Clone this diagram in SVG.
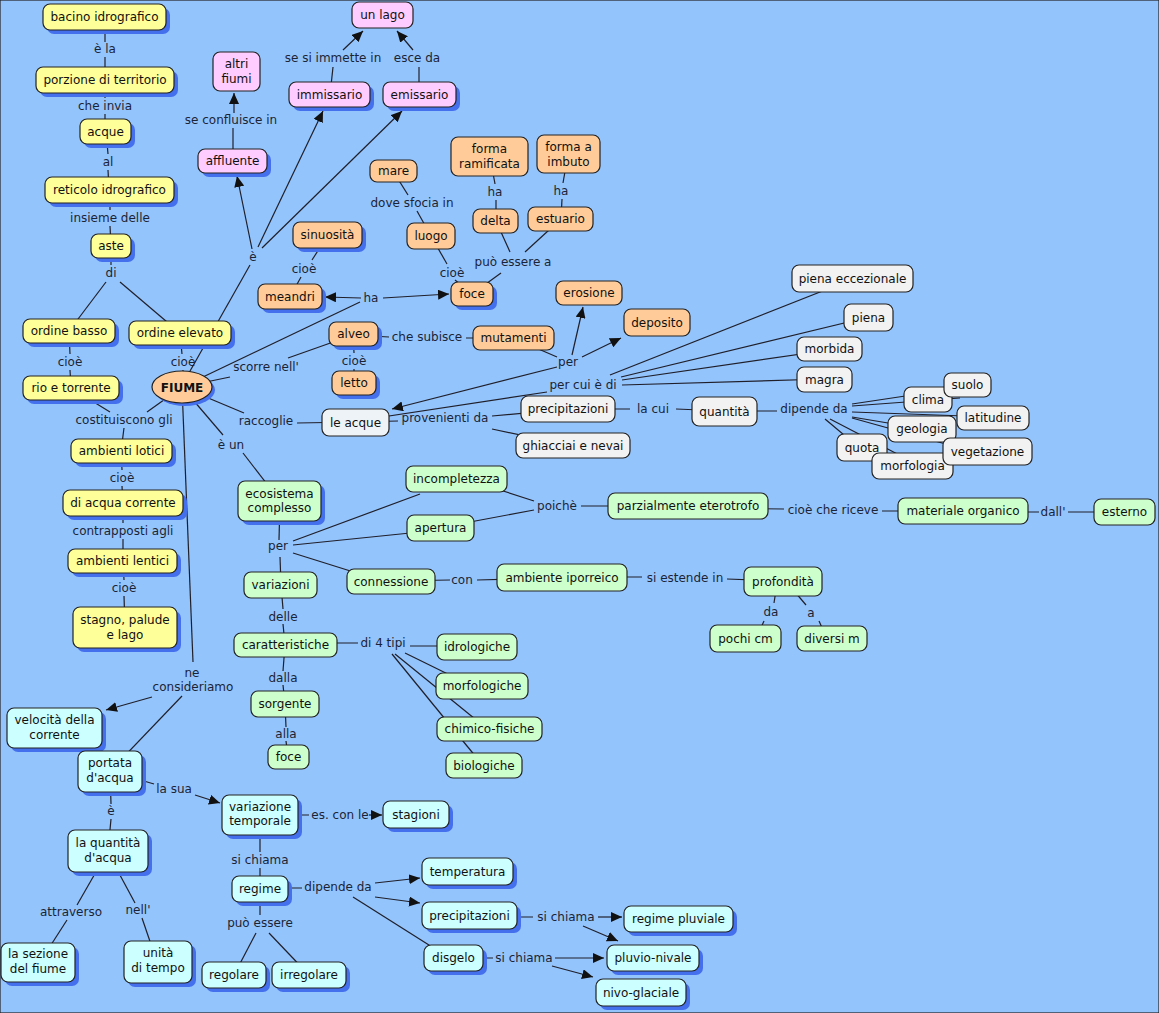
<svg xmlns="http://www.w3.org/2000/svg" width="1159" height="1013" viewBox="0 0 1159 1013">
<defs>
<style>
text{font-family:"DejaVu Sans",Verdana,"Liberation Sans",sans-serif;font-size:12px;text-anchor:middle;fill:#111}
.lbl text{fill:#1b2436}
rect,ellipse{stroke:#222;stroke-width:1.2}
.sh{fill:#4470EE;stroke:none}
.y{fill:#FFFF99}.p{fill:#FFCCFF}.o{fill:#FFCC99}.g{fill:#F2F2F2}.la{fill:#EEF3F7}.gr{fill:#CCFFCC}.c{fill:#CCFFFF}
#connectors line{stroke:#1f1f2a;stroke-width:1.2;fill:none}
#connectors line.a{marker-end:url(#arr)}
</style>
<marker id="arr" markerWidth="12" markerHeight="10" refX="11" refY="5" orient="auto" markerUnits="userSpaceOnUse"><path d="M0,0 L11,5 L0,10 z" fill="#111"/></marker>
</defs>
<rect x="0" y="0" width="1159" height="1013" fill="#94C4FC" stroke="none"/>
<g id="connectors">
<line x1="105" y1="17" x2="105" y2="42"/><line x1="105" y1="57" x2="105" y2="80"/>
<line x1="105" y1="80" x2="105" y2="98"/><line x1="105" y1="114" x2="105" y2="131"/>
<line x1="106" y1="131" x2="108" y2="154"/><line x1="108" y1="170" x2="109" y2="190"/>
<line x1="110" y1="190" x2="110" y2="210"/><line x1="110" y1="226" x2="111" y2="246"/>
<line x1="111" y1="246" x2="111" y2="265"/>
<line x1="106" y1="282" x2="69" y2="331"/><line x1="120" y1="282" x2="180" y2="333"/>
<line x1="69" y1="331" x2="70" y2="354"/><line x1="70" y1="370" x2="71" y2="388"/>
<line x1="180" y1="333" x2="182" y2="354"/><line x1="183" y1="370" x2="182" y2="387"/>
<line x1="71" y1="388" x2="110" y2="412"/><line x1="182" y1="387" x2="147" y2="412"/><line x1="124" y1="428" x2="121" y2="451"/>
<line x1="121" y1="451" x2="122" y2="470"/><line x1="122" y1="486" x2="123" y2="503"/>
<line x1="123" y1="503" x2="123" y2="523"/><line x1="123" y1="539" x2="123" y2="561"/>
<line x1="123" y1="561" x2="124" y2="580"/><line x1="124" y1="596" x2="125" y2="628"/>
<line x1="181" y1="387" x2="250" y2="265"/>
<line class="a" x1="252" y1="249" x2="237" y2="176"/>
<line class="a" x1="258" y1="247" x2="323" y2="111"/>
<line class="a" x1="262" y1="248" x2="402" y2="111"/>
<line x1="233" y1="161" x2="233" y2="128"/><line class="a" x1="234" y1="113" x2="234" y2="93"/>
<line x1="330" y1="95" x2="333" y2="67"/><line class="a" x1="343" y1="50" x2="363" y2="31"/>
<line x1="419" y1="95" x2="419" y2="67"/><line class="a" x1="413" y1="50" x2="397" y2="31"/>
<line x1="182" y1="387" x2="360" y2="302"/>
<line class="a" x1="361" y1="298" x2="325" y2="297"/>
<line class="a" x1="383" y1="298" x2="449" y2="294"/>
<line x1="328" y1="235" x2="312" y2="260"/><line x1="301" y1="277" x2="290" y2="297"/>
<line x1="393" y1="171" x2="408" y2="195"/><line x1="417" y1="211" x2="431" y2="236"/>
<line x1="431" y1="236" x2="447" y2="264"/><line x1="455" y1="280" x2="472" y2="294"/>
<line x1="490" y1="156" x2="495" y2="184"/><line x1="496" y1="200" x2="496" y2="221"/>
<line x1="568" y1="154" x2="563" y2="183"/><line x1="562" y1="199" x2="561" y2="219"/>
<line x1="496" y1="221" x2="510" y2="252"/><line x1="561" y1="219" x2="525" y2="252"/><line x1="501" y1="273" x2="472" y2="294"/>
<line x1="353" y1="335" x2="389" y2="337"/><line x1="466" y1="338" x2="513" y2="338"/>
<line x1="353" y1="334" x2="354" y2="353"/><line x1="354" y1="369" x2="354" y2="383"/>
<line x1="513" y1="338" x2="557" y2="357"/>
<line class="a" x1="572" y1="355" x2="583" y2="307"/>
<line class="a" x1="582" y1="357" x2="621" y2="338"/>
<line class="a" x1="557" y1="367" x2="392" y2="409"/>
<line x1="182" y1="387" x2="230" y2="377"/><line x1="288" y1="358" x2="353" y2="335"/>
<line x1="182" y1="387" x2="244" y2="413"/><line x1="297" y1="423" x2="356" y2="422"/>
<line x1="356" y1="422" x2="398" y2="421"/><line x1="492" y1="416" x2="568" y2="409"/><line x1="492" y1="429" x2="573" y2="446"/>
<line x1="356" y1="421" x2="547" y2="392"/>
<line x1="610" y1="375" x2="853" y2="279"/><line x1="621" y1="377" x2="869" y2="317"/><line x1="622" y1="380" x2="829" y2="350"/><line x1="622" y1="385" x2="825" y2="379"/>
<line x1="568" y1="409" x2="630" y2="409"/><line x1="676" y1="409" x2="725" y2="411"/>
<line x1="725" y1="411" x2="777" y2="411"/>
<line x1="852" y1="404" x2="912" y2="395"/><line x1="852" y1="406" x2="960" y2="398"/><line x1="852" y1="412" x2="965" y2="416"/><line x1="852" y1="417" x2="900" y2="425"/><line x1="852" y1="418" x2="960" y2="448"/><line x1="825" y1="419" x2="850" y2="440"/><line x1="830" y1="419" x2="905" y2="458"/>
<line x1="182" y1="387" x2="223" y2="435"/><line x1="243" y1="453" x2="280" y2="501"/>
<line x1="280" y1="501" x2="279" y2="540"/><line x1="280" y1="557" x2="281" y2="585"/>
<line x1="293" y1="541" x2="420" y2="494"/><line x1="293" y1="545" x2="420" y2="532"/><line x1="293" y1="553" x2="360" y2="574"/>
<line x1="500" y1="490" x2="534" y2="501"/><line x1="470" y1="522" x2="534" y2="510"/>
<line x1="581" y1="506" x2="688" y2="506"/>
<line x1="688" y1="508" x2="784" y2="509"/><line x1="882" y1="511" x2="963" y2="511"/>
<line x1="963" y1="512" x2="1039" y2="512"/><line x1="1068" y1="512" x2="1125" y2="512"/>
<line x1="391" y1="581" x2="450" y2="580"/><line x1="477" y1="580" x2="562" y2="578"/>
<line x1="562" y1="577" x2="642" y2="577"/><line x1="727" y1="579" x2="783" y2="581"/>
<line x1="776" y1="590" x2="774" y2="603"/><line x1="764" y1="621" x2="760" y2="630"/>
<line x1="795" y1="592" x2="806" y2="605"/><line x1="819" y1="621" x2="823" y2="630"/>
<line x1="281" y1="585" x2="283" y2="609"/><line x1="283" y1="624" x2="285" y2="645"/>
<line x1="286" y1="643" x2="358" y2="643"/>
<line x1="410" y1="646" x2="477" y2="646"/><line x1="405" y1="653" x2="460" y2="680"/><line x1="395" y1="654" x2="480" y2="723"/><line x1="392" y1="654" x2="476" y2="757"/>
<line x1="285" y1="645" x2="283" y2="671"/><line x1="283" y1="685" x2="285" y2="704"/>
<line x1="285" y1="704" x2="286" y2="727"/><line x1="286" y1="741" x2="288" y2="757"/>
<line x1="182" y1="387" x2="193" y2="662"/>
<line class="a" x1="152" y1="697" x2="106" y2="710"/>
<line x1="182" y1="696" x2="115" y2="766"/>
<line x1="110" y1="771" x2="154" y2="784"/><line class="a" x1="195" y1="795" x2="220" y2="803"/>
<line x1="110" y1="771" x2="111" y2="804"/><line x1="111" y1="819" x2="108" y2="851"/>
<line x1="108" y1="851" x2="77" y2="905"/><line x1="67" y1="920" x2="40" y2="962"/>
<line x1="107" y1="851" x2="135" y2="903"/><line x1="142" y1="918" x2="157" y2="962"/>
<line x1="260" y1="815" x2="260" y2="852"/><line x1="260" y1="868" x2="260" y2="888"/>
<line x1="260" y1="815" x2="309" y2="815"/><line class="a" x1="369" y1="815" x2="382" y2="815"/>
<line x1="260" y1="888" x2="302" y2="888"/>
<line class="a" x1="375" y1="883" x2="420" y2="878"/>
<line class="a" x1="375" y1="897" x2="420" y2="903"/>
<line x1="353" y1="897" x2="440" y2="952"/>
<line x1="260" y1="888" x2="260" y2="915"/><line x1="256" y1="933" x2="234" y2="975"/><line x1="269" y1="933" x2="309" y2="975"/>
<line x1="469" y1="917" x2="533" y2="917"/><line class="a" x1="598" y1="917" x2="622" y2="917"/><line class="a" x1="583" y1="926" x2="618" y2="941"/>
<line x1="453" y1="958" x2="493" y2="958"/><line class="a" x1="555" y1="958" x2="604" y2="958"/><line class="a" x1="552" y1="966" x2="593" y2="977"/>
</g>
<g class="lbl" id="link-labels">
<text x="105" y="53">è la</text>
<text x="105" y="110">che invia</text>
<text x="108" y="166">al</text>
<text x="110" y="222">insieme delle</text>
<text x="111" y="277">di</text>
<text x="70" y="366">cioè</text>
<text x="183" y="366">cioè</text>
<text x="231" y="124">se confluisce in</text>
<text x="253" y="261">è</text>
<text x="333" y="62">se si immette in</text>
<text x="417" y="62">esce da</text>
<text x="304" y="273">cioè</text>
<text x="371" y="302">ha</text>
<text x="412" y="207">dove sfocia in</text>
<text x="452" y="277">cioè</text>
<text x="495" y="196">ha</text>
<text x="561" y="195">ha</text>
<text x="513" y="266">può essere a</text>
<text x="427" y="341">che subisce</text>
<text x="354" y="365">cioè</text>
<text x="568" y="366">per</text>
<text x="266" y="371">scorre nell'</text>
<text x="266" y="425">raccoglie</text>
<text x="445" y="422">provenienti da</text>
<text x="583" y="389">per cui è di</text>
<text x="653" y="413">la cui</text>
<text x="814" y="413">dipende da</text>
<text x="124" y="424">costituiscono gli</text>
<text x="122" y="482">cioè</text>
<text x="123" y="535">contrapposti agli</text>
<text x="124" y="592">cioè</text>
<text x="231" y="449">è un</text>
<text x="278" y="550">per</text>
<text x="557" y="510">poichè</text>
<text x="833" y="514">cioè che riceve</text>
<text x="1053" y="516">dall'</text>
<text x="462" y="584">con</text>
<text x="685" y="582">si estende in</text>
<text x="771" y="616">da</text>
<text x="811" y="617">a</text>
<text x="283" y="621">delle</text>
<text x="383" y="647">di 4 tipi</text>
<text x="283" y="682">dalla</text>
<text x="286" y="738">alla</text>
<text x="192" y="677">ne</text>
<text x="193" y="691">consideriamo</text>
<text x="174" y="793">la sua</text>
<text x="111" y="815">è</text>
<text x="71" y="916">attraverso</text>
<text x="138" y="914">nell'</text>
<text x="260" y="864">si chiama</text>
<text x="338" y="891">dipende da</text>
<text x="260" y="927">può essere</text>
<text x="340" y="819">es. con le</text>
<text x="566" y="921">si chiama</text>
<text x="524" y="962">si chiama</text>
</g>
<g id="n-bacino"><rect class="sh" x="47" y="8" width="123" height="26" rx="7"/><rect class="y" x="43" y="4" width="123" height="26" rx="7"/><text x="104.5" y="21">bacino idrografico</text></g>
<g id="n-porzione"><rect class="sh" x="40" y="71" width="138" height="26" rx="7"/><rect class="y" x="36" y="67" width="138" height="26" rx="7"/><text x="105" y="84">porzione di territorio</text></g>
<g id="n-acque"><rect class="sh" x="84" y="123" width="51" height="25" rx="7"/><rect class="y" x="80" y="119" width="51" height="25" rx="7"/><text x="105.5" y="135.5">acque</text></g>
<g id="n-reticolo"><rect class="sh" x="49" y="181" width="129" height="26" rx="7"/><rect class="y" x="45" y="177" width="129" height="26" rx="7"/><text x="109.5" y="194">reticolo idrografico</text></g>
<g id="n-aste"><rect class="sh" x="95" y="238" width="40" height="24" rx="7"/><rect class="y" x="91" y="234" width="40" height="24" rx="7"/><text x="111" y="250">aste</text></g>
<g id="n-ordine-basso"><rect class="sh" x="27" y="323" width="92" height="24" rx="7"/><rect class="y" x="23" y="319" width="92" height="24" rx="7"/><text x="69" y="335">ordine basso</text></g>
<g id="n-ordine-elevato"><rect class="sh" x="133" y="325" width="102" height="24" rx="7"/><rect class="y" x="129" y="321" width="102" height="24" rx="7"/><text x="180" y="337">ordine elevato</text></g>
<g id="n-rio"><rect class="sh" x="27" y="380" width="96" height="24" rx="7"/><rect class="y" x="23" y="376" width="96" height="24" rx="7"/><text x="71" y="392">rio e torrente</text></g>
<g id="n-lotici"><rect class="sh" x="75" y="443" width="101" height="24" rx="7"/><rect class="y" x="71" y="439" width="101" height="24" rx="7"/><text x="121.5" y="455">ambienti lotici</text></g>
<g id="n-corrente"><rect class="sh" x="67" y="494" width="120" height="26" rx="7"/><rect class="y" x="63" y="490" width="120" height="26" rx="7"/><text x="123" y="507">di acqua corrente</text></g>
<g id="n-lentici"><rect class="sh" x="72" y="553" width="109" height="24" rx="7"/><rect class="y" x="68" y="549" width="109" height="24" rx="7"/><text x="122.5" y="565">ambienti lentici</text></g>
<g id="n-stagno"><rect class="sh" x="77" y="611" width="104" height="41" rx="7"/><rect class="y" x="73" y="607" width="104" height="41" rx="7"/><text x="125" y="624">stagno, palude</text><text x="125" y="639">e lago</text></g>
<g id="n-altri-fiumi"><rect class="p" x="213" y="52" width="47" height="39" rx="7"/><text x="236.5" y="68">altri</text><text x="236.5" y="83">fiumi</text></g>
<g id="n-affluente"><rect class="sh" x="202" y="153" width="69" height="24" rx="7"/><rect class="p" x="198" y="149" width="69" height="24" rx="7"/><text x="232.5" y="165">affluente</text></g>
<g id="n-immissario"><rect class="sh" x="293" y="86" width="81" height="25" rx="7"/><rect class="p" x="289" y="82" width="81" height="25" rx="7"/><text x="329.5" y="98.5">immissario</text></g>
<g id="n-un-lago"><rect class="p" x="352" y="2" width="61" height="26" rx="7"/><text x="382.5" y="19">un lago</text></g>
<g id="n-emissario"><rect class="sh" x="387" y="86" width="73" height="25" rx="7"/><rect class="p" x="383" y="82" width="73" height="25" rx="7"/><text x="419.5" y="98.5">emissario</text></g>
<g id="n-sinuosita"><rect class="sh" x="297" y="226" width="69" height="26" rx="7"/><rect class="o" x="293" y="222" width="69" height="26" rx="7"/><text x="327.5" y="239">sinuosità</text></g>
<g id="n-meandri"><rect class="sh" x="262" y="288" width="64" height="25" rx="7"/><rect class="o" x="258" y="284" width="64" height="25" rx="7"/><text x="290" y="300.5">meandri</text></g>
<g id="n-mare"><rect class="o" x="370" y="160" width="47" height="22" rx="7"/><text x="393.5" y="175">mare</text></g>
<g id="n-luogo"><rect class="o" x="407" y="223" width="48" height="26" rx="7"/><text x="431" y="240">luogo</text></g>
<g id="n-foce"><rect class="sh" x="455" y="286" width="42" height="24" rx="7"/><rect class="o" x="451" y="282" width="42" height="24" rx="7"/><text x="472" y="298">foce</text></g>
<g id="n-forma-ramificata"><rect class="o" x="451" y="137" width="77" height="39" rx="7"/><text x="489.5" y="153">forma</text><text x="489.5" y="168">ramificata</text></g>
<g id="n-forma-imbuto"><rect class="o" x="537" y="135" width="63" height="38" rx="7"/><text x="568.5" y="151">forma a</text><text x="568.5" y="166">imbuto</text></g>
<g id="n-delta"><rect class="o" x="473" y="209" width="45" height="24" rx="7"/><text x="495.5" y="225">delta</text></g>
<g id="n-estuario"><rect class="o" x="528" y="207" width="65" height="24" rx="7"/><text x="560.5" y="223">estuario</text></g>
<g id="n-erosione"><rect class="o" x="556" y="281" width="66" height="24" rx="7"/><text x="589" y="297">erosione</text></g>
<g id="n-deposito"><rect class="o" x="624" y="309" width="66" height="27" rx="7"/><text x="657" y="326.5">deposito</text></g>
<g id="n-alveo"><rect class="sh" x="333" y="326" width="49" height="24" rx="7"/><rect class="o" x="329" y="322" width="49" height="24" rx="7"/><text x="353.5" y="338">alveo</text></g>
<g id="n-letto"><rect class="sh" x="336" y="375" width="44" height="24" rx="7"/><rect class="o" x="332" y="371" width="44" height="24" rx="7"/><text x="354" y="387">letto</text></g>
<g id="n-mutamenti"><rect class="o" x="473" y="326" width="81" height="24" rx="7"/><text x="513.5" y="342">mutamenti</text></g>
<g id="n-fiume"><ellipse class="sh" cx="185" cy="390" rx="30" ry="16"/><ellipse class="o" cx="182" cy="387" rx="30" ry="16"/><text x="182" y="391.5" font-weight="bold">FIUME</text></g>
<g id="n-le-acque"><rect class="la" x="322" y="409" width="67" height="27" rx="7"/><text x="355.5" y="426.5">le acque</text></g>
<g id="n-precipitazioni-g"><rect class="g" x="521" y="396" width="94" height="26" rx="7"/><text x="568" y="413">precipitazioni</text></g>
<g id="n-ghiacciai"><rect class="g" x="516" y="433" width="114" height="25" rx="7"/><text x="573" y="449.5">ghiacciai e nevai</text></g>
<g id="n-piena-ecc"><rect class="g" x="792" y="265" width="121" height="27" rx="7"/><text x="852.5" y="282.5">piena eccezionale</text></g>
<g id="n-piena"><rect class="g" x="844" y="304" width="49" height="27" rx="7"/><text x="868.5" y="321.5">piena</text></g>
<g id="n-morbida"><rect class="g" x="797" y="337" width="65" height="24" rx="7"/><text x="829.5" y="353">morbida</text></g>
<g id="n-magra"><rect class="g" x="797" y="367" width="55" height="25" rx="7"/><text x="824.5" y="383.5">magra</text></g>
<g id="n-quantita"><rect class="g" x="692" y="397" width="65" height="29" rx="7"/><text x="724.5" y="415.5">quantità</text></g>
<g id="n-clima"><rect class="g" x="904" y="387" width="48" height="25" rx="7"/><text x="928" y="403.5">clima</text></g>
<g id="n-suolo"><rect class="g" x="944" y="373" width="47" height="24" rx="7"/><text x="967.5" y="389">suolo</text></g>
<g id="n-latitudine"><rect class="g" x="957" y="406" width="72" height="24" rx="7"/><text x="993" y="422">latitudine</text></g>
<g id="n-geologia"><rect class="g" x="888" y="416" width="68" height="26" rx="7"/><text x="922" y="433">geologia</text></g>
<g id="n-quota"><rect class="g" x="837" y="434" width="50" height="27" rx="7"/><text x="862" y="451.5">quota</text></g>
<g id="n-morfologia"><rect class="g" x="872" y="453" width="81" height="26" rx="7"/><text x="912.5" y="470">morfologia</text></g>
<g id="n-vegetazione"><rect class="g" x="943" y="438" width="89" height="27" rx="7"/><text x="987.5" y="455.5">vegetazione</text></g>
<g id="n-ecosistema"><rect class="sh" x="242" y="485" width="83" height="40" rx="7"/><rect class="gr" x="238" y="481" width="83" height="40" rx="7"/><text x="279.5" y="498">ecosistema</text><text x="279.5" y="512">complesso</text></g>
<g id="n-incompletezza"><rect class="gr" x="406" y="466" width="101" height="26" rx="7"/><text x="456.5" y="483">incompletezza</text></g>
<g id="n-apertura"><rect class="gr" x="407" y="515" width="67" height="26" rx="7"/><text x="440.5" y="532">apertura</text></g>
<g id="n-eterotrofo"><rect class="gr" x="608" y="493" width="160" height="26" rx="7"/><text x="688" y="510">parzialmente eterotrofo</text></g>
<g id="n-materiale"><rect class="gr" x="898" y="498" width="130" height="26" rx="7"/><text x="963" y="515">materiale organico</text></g>
<g id="n-esterno"><rect class="gr" x="1094" y="499" width="61" height="26" rx="7"/><text x="1124.5" y="516">esterno</text></g>
<g id="n-connessione"><rect class="gr" x="347" y="569" width="88" height="25" rx="7"/><text x="391" y="585.5">connessione</text></g>
<g id="n-iporreico"><rect class="gr" x="497" y="564" width="130" height="27" rx="7"/><text x="562" y="581.5">ambiente iporreico</text></g>
<g id="n-profondita"><rect class="gr" x="744" y="567" width="78" height="29" rx="7"/><text x="783" y="585.5">profondità</text></g>
<g id="n-pochi-cm"><rect class="gr" x="710" y="625" width="71" height="27" rx="7"/><text x="745.5" y="642.5">pochi cm</text></g>
<g id="n-diversi-m"><rect class="gr" x="797" y="626" width="70" height="25" rx="7"/><text x="832" y="642.5">diversi m</text></g>
<g id="n-variazioni"><rect class="gr" x="244" y="572" width="73" height="26" rx="7"/><text x="280.5" y="589">variazioni</text></g>
<g id="n-caratteristiche"><rect class="gr" x="234" y="633" width="103" height="24" rx="7"/><text x="285.5" y="649">caratteristiche</text></g>
<g id="n-idrologiche"><rect class="gr" x="437" y="634" width="80" height="26" rx="7"/><text x="477" y="651">idrologiche</text></g>
<g id="n-morfologiche"><rect class="gr" x="436" y="673" width="92" height="26" rx="7"/><text x="482" y="690">morfologiche</text></g>
<g id="n-chimico"><rect class="gr" x="437" y="717" width="105" height="24" rx="7"/><text x="489.5" y="733">chimico-fisiche</text></g>
<g id="n-biologiche"><rect class="gr" x="446" y="753" width="76" height="25" rx="7"/><text x="484" y="769.5">biologiche</text></g>
<g id="n-sorgente"><rect class="gr" x="251" y="691" width="68" height="26" rx="7"/><text x="285" y="708">sorgente</text></g>
<g id="n-foce-verde"><rect class="gr" x="268" y="745" width="41" height="24" rx="7"/><text x="288.5" y="761">foce</text></g>
<g id="n-velocita"><rect class="sh" x="11" y="712" width="95" height="40" rx="7"/><rect class="c" x="7" y="708" width="95" height="40" rx="7"/><text x="54.5" y="724">velocità della</text><text x="54.5" y="739">corrente</text></g>
<g id="n-portata"><rect class="sh" x="82" y="755" width="64" height="41" rx="7"/><rect class="c" x="78" y="751" width="64" height="41" rx="7"/><text x="110" y="767">portata</text><text x="110" y="782">d'acqua</text></g>
<g id="n-quantita-acqua"><rect class="sh" x="72" y="834" width="80" height="42" rx="7"/><rect class="c" x="68" y="830" width="80" height="42" rx="7"/><text x="108" y="847">la quantità</text><text x="108" y="862">d'acqua</text></g>
<g id="n-sezione"><rect class="sh" x="5" y="947" width="74" height="39" rx="7"/><rect class="c" x="1" y="943" width="74" height="39" rx="7"/><text x="38" y="958">la sezione</text><text x="38" y="973">del fiume</text></g>
<g id="n-unita"><rect class="sh" x="128" y="945" width="68" height="42" rx="7"/><rect class="c" x="124" y="941" width="68" height="42" rx="7"/><text x="158" y="957">unità</text><text x="158" y="972">di tempo</text></g>
<g id="n-variazione-temporale"><rect class="sh" x="226" y="799" width="76" height="40" rx="7"/><rect class="c" x="222" y="795" width="76" height="40" rx="7"/><text x="260" y="811">variazione</text><text x="260" y="825">temporale</text></g>
<g id="n-stagioni"><rect class="sh" x="387" y="805" width="66" height="27" rx="7"/><rect class="c" x="383" y="801" width="66" height="27" rx="7"/><text x="416" y="818.5">stagioni</text></g>
<g id="n-regime"><rect class="sh" x="236" y="880" width="56" height="26" rx="7"/><rect class="c" x="232" y="876" width="56" height="26" rx="7"/><text x="260" y="893">regime</text></g>
<g id="n-regolare"><rect class="sh" x="206" y="966" width="64" height="26" rx="7"/><rect class="c" x="202" y="962" width="64" height="26" rx="7"/><text x="234" y="979">regolare</text></g>
<g id="n-irregolare"><rect class="sh" x="276" y="966" width="74" height="26" rx="7"/><rect class="c" x="272" y="962" width="74" height="26" rx="7"/><text x="309" y="979">irregolare</text></g>
<g id="n-temperatura"><rect class="sh" x="426" y="862" width="91" height="27" rx="7"/><rect class="c" x="422" y="858" width="91" height="27" rx="7"/><text x="467.5" y="875.5">temperatura</text></g>
<g id="n-precipitazioni-c"><rect class="sh" x="426" y="906" width="95" height="27" rx="7"/><rect class="c" x="422" y="902" width="95" height="27" rx="7"/><text x="469.5" y="919.5">precipitazioni</text></g>
<g id="n-disgelo"><rect class="sh" x="428" y="949" width="59" height="26" rx="7"/><rect class="c" x="424" y="945" width="59" height="26" rx="7"/><text x="453.5" y="962">disgelo</text></g>
<g id="n-regime-pluviale"><rect class="sh" x="628" y="910" width="109" height="26" rx="7"/><rect class="c" x="624" y="906" width="109" height="26" rx="7"/><text x="678.5" y="923">regime pluviale</text></g>
<g id="n-pluvio-nivale"><rect class="sh" x="611" y="949" width="92" height="26" rx="7"/><rect class="c" x="607" y="945" width="92" height="26" rx="7"/><text x="653" y="962">pluvio-nivale</text></g>
<g id="n-nivo-glaciale"><rect class="sh" x="600" y="983" width="90" height="27" rx="7"/><rect class="c" x="596" y="979" width="90" height="27" rx="7"/><text x="641" y="996.5">nivo-glaciale</text></g>
</svg>
